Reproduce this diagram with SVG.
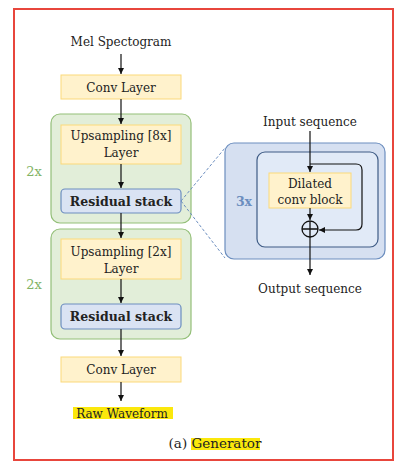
<svg xmlns="http://www.w3.org/2000/svg" width="401" height="475" viewBox="0 0 401 475">
<style>
text{font-family:"DejaVu Serif","Liberation Serif",serif;font-size:12px;fill:#222;text-anchor:middle}
.y{fill:#fff2cc;stroke:#fbd97a;stroke-width:1}
.g{fill:#e2eed9;stroke:#93bf78;stroke-width:1.2}
.r{fill:#dae3f3;stroke:#6c8ebf;stroke-width:1.2}
.b{font-weight:bold;font-size:12.5px}
.w{stroke:#111;stroke-width:1.2;fill:none}
.n2{fill:#82b366;font-size:13px}
</style>
<defs>
<marker id="ah" markerWidth="8" markerHeight="8" refX="6" refY="4" orient="auto" markerUnits="userSpaceOnUse">
<path d="M0,1 L6,4 L0,7 Z" fill="#111"/>
</marker>
</defs>
<rect x="14" y="9" width="379" height="451" fill="#fff" stroke="#e8463c" stroke-width="2"/>
<g id="mel"><text x="121" y="46">Mel Spectogram</text></g>
<g id="conv1"><rect class="y" x="61" y="75" width="120" height="24"/><text x="121" y="92">Conv Layer</text></g>
<g id="block1">
<rect class="g" x="51" y="114" width="140" height="109" rx="9"/>
<text class="n2" x="34" y="176">2x</text>
</g>
<g id="up8"><rect class="y" x="61" y="125" width="120" height="39"/><text x="121" y="140">Upsampling [8x]</text><text x="121" y="157">Layer</text></g>
<g id="res1"><rect class="r" x="61" y="189" width="120" height="24" rx="4"/><text class="b" x="121" y="206">Residual stack</text></g>
<g id="block2">
<rect class="g" x="51" y="229" width="140" height="110" rx="9"/>
<text class="n2" x="34" y="289">2x</text>
</g>
<g id="up2"><rect class="y" x="61" y="239" width="120" height="40"/><text x="121" y="256">Upsampling [2x]</text><text x="121" y="273">Layer</text></g>
<g id="res2"><rect class="r" x="61" y="304" width="120" height="25" rx="4"/><text class="b" x="121" y="321">Residual stack</text></g>
<g id="conv2"><rect class="y" x="61" y="357" width="120" height="25"/><text x="121" y="374">Conv Layer</text></g>
<g id="raw"><rect x="73" y="407" width="100" height="12" fill="#fbe80c"/><text x="122" y="418">Raw Waveform</text></g>
<g id="caption"><rect x="191" y="438" width="69" height="12" fill="#fbe80c"/><text x="215" y="448" style="font-size:13.5px">(a) Generator</text></g>
<g id="resblock">
<rect x="225" y="143" width="160" height="116" rx="9" fill="#d6e0f1" stroke="#6c8ebf" stroke-width="1.2"/>
<rect x="257" y="152" width="121" height="95" rx="8" fill="#e1eaf7" stroke="#3e5b85" stroke-width="1.2"/>
<text x="244" y="206" style="fill:#6c8ebf;font-weight:bold;font-size:12.5px">3x</text>
</g>
<g id="input"><text x="310" y="126">Input sequence</text></g>
<g id="dilated"><rect class="y" x="269" y="173" width="82" height="35"/><text x="310" y="188">Dilated</text><text x="310" y="204">conv block</text></g>
<g id="sum"><circle cx="310" cy="229" r="8" fill="none" stroke="#111" stroke-width="1.3"/><path d="M302,229 H318 M310,221 V237" stroke="#111" stroke-width="1.3"/></g>
<g id="output"><text x="310" y="293">Output sequence</text></g>
<g id="connectors">
<path class="w" d="M121,54 V74" marker-end="url(#ah)"/>
<path class="w" d="M121,99 V124" marker-end="url(#ah)"/>
<path class="w" d="M121,164 V188" marker-end="url(#ah)"/>
<path class="w" d="M121,213 V238" marker-end="url(#ah)"/>
<path class="w" d="M121,279 V303" marker-end="url(#ah)"/>
<path class="w" d="M121,329 V356" marker-end="url(#ah)"/>
<path class="w" d="M121,382 V401" marker-end="url(#ah)"/>
<path class="w" d="M310,131 V172" marker-end="url(#ah)"/>
<path class="w" d="M310,164 H356 Q362,164 362,170 V224 Q362,230 356,230 H319" marker-end="url(#ah)"/>
<path class="w" d="M310,208 V220" marker-end="url(#ah)"/>
<path class="w" d="M310,237 V275" marker-end="url(#ah)"/>
<path d="M181,201 L225,148 M181,201 L225,258" stroke="#6c8ebf" stroke-width="1" stroke-dasharray="3,2" fill="none"/>
</g>
</svg>
